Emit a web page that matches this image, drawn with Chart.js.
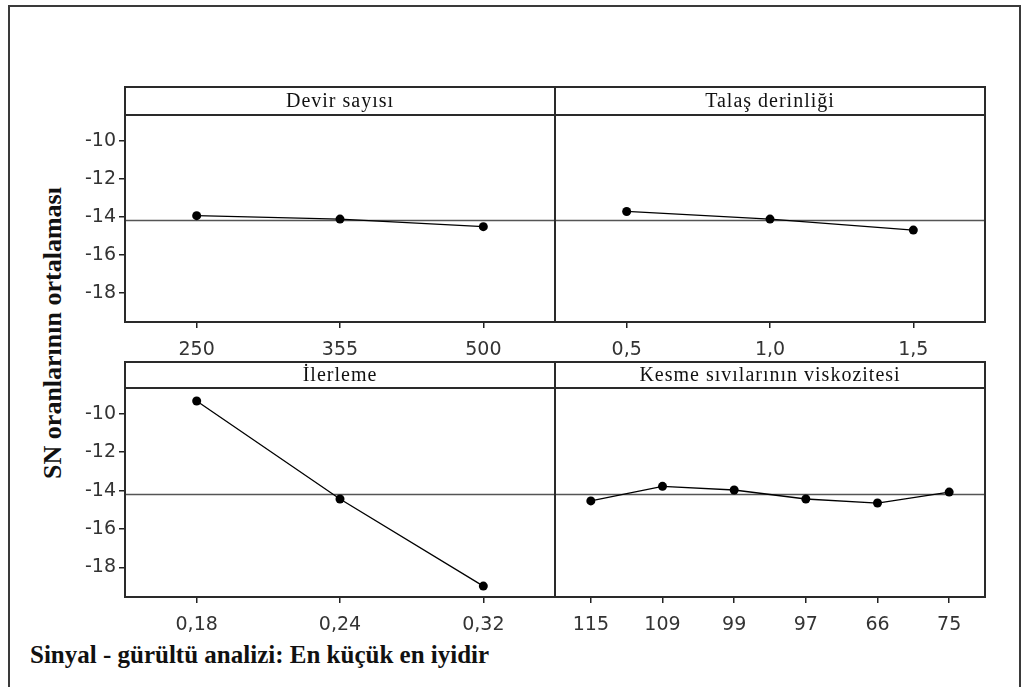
<!DOCTYPE html>
<html>
<head>
<meta charset="utf-8">
<script src="https://cdn.jsdelivr.net/npm/chart.js@4/dist/chart.umd.min.js"></script>
<style>
  html, body { margin: 0; padding: 0; background: #fff; }
  #page { position: relative; width: 1024px; height: 687px; overflow: hidden; background: #fff; }
  #frame { position: absolute; left: 8px; top: 5px; width: 1013px; height: 700px;
           border: 2px solid #3a3a3a; box-sizing: border-box; }
  canvas { position: absolute; }
  #ytitle { position: absolute; left: 53px; top: 333px; white-space: nowrap;
            transform: translate(-50%, -50%) rotate(-90deg);
            font: bold 26px "Liberation Serif", serif; color: #111; }
  #footer { position: absolute; left: 30px; top: 641px; white-space: nowrap;
            font: bold 25px "Liberation Serif", serif; color: #111; }
</style>
</head>
<body>
<div id="page">
  <div id="frame"></div>
  <div id="ytitle">SN oranlarının ortalaması</div>
  <div id="footer">Sinyal - gürültü analizi: En küçük en iyidir</div>
</div>
<script>
// Main effects of the S/N ratio (smaller is better) for each factor level
const devirLabels = ['250', '355', '500'];
const devirSN = [-13.95, -14.13, -14.53];

const talasLabels = ['0,5', '1,0', '1,5'];
const talasSN = [-13.73, -14.13, -14.71];

const ilerlemeLabels = ['0,18', '0,24', '0,32'];
const ilerlemeSN = [-9.33, -14.44, -18.98];

const kesmeLabels = ['115', '109', '99', '97', '66', '75'];
const kesmeSN = [-14.54, -13.78, -13.97, -14.44, -14.65, -14.08];

const yTickValues = [-10, -12, -14, -16, -18];
const yMin = -19.55;
const yMax = -8.65;
const grandMean = -14.2;

const panelTitles = ['Devir sayısı', 'Talaş derinliği', 'İlerleme', 'Kesme sıvılarının viskozitesi'];

// Draws the title strip, the grand-mean reference line and the panel box
const panelDecor = {
  id: 'panelDecor',
  beforeDatasetsDraw(chart, args, opts) {
    const { ctx, chartArea: a } = chart;
    const y = chart.scales.y.getPixelForValue(opts.mean);
    ctx.save();
    ctx.strokeStyle = '#555';
    ctx.lineWidth = 1.5;
    ctx.beginPath();
    ctx.moveTo(a.left, y);
    ctx.lineTo(a.right, y);
    ctx.stroke();
    ctx.restore();
  },
  afterDraw(chart, args, opts) {
    const { ctx, chartArea: a } = chart;
    ctx.save();
    ctx.strokeStyle = '#2a2a2a';
    ctx.lineWidth = 2;
    ctx.strokeRect(a.left, a.top - opts.strip, a.right - a.left, opts.strip);
    ctx.strokeRect(a.left, a.top, a.right - a.left, a.bottom - a.top);
    ctx.fillStyle = '#111';
    ctx.font = '20px "Liberation Serif", serif';
    ctx.letterSpacing = '1px';
    ctx.textAlign = 'center';
    ctx.textBaseline = 'middle';
    ctx.fillText(opts.title, (a.left + a.right) / 2, a.top - opts.strip / 2 + 1);
    ctx.restore();
  }
};

function makePanel(rect, title, labels, values, showY) {
  const yW = showY ? 60 : 0;
  const pad = 3;
  const xH = 48;
  const canvas = document.createElement('canvas');
  const w = yW + (rect.right - rect.left) + 2 * pad;
  const h = rect.strip + pad + (rect.bottom - rect.top) + xH;
  canvas.width = w;
  canvas.height = h;
  canvas.style.left = (rect.left - yW - pad) + 'px';
  canvas.style.top = (rect.top - rect.strip - pad) + 'px';
  canvas.style.width = w + 'px';
  canvas.style.height = h + 'px';
  document.getElementById('page').appendChild(canvas);

  const tickFont = { family: '"DejaVu Sans", sans-serif', size: 19 };

  new Chart(canvas, {
    type: 'line',
    data: {
      labels: labels,
      datasets: [{
        data: values,
        borderColor: '#000',
        borderWidth: 1.3,
        backgroundColor: '#000',
        pointRadius: 4.5,
        pointBackgroundColor: '#000',
        pointBorderWidth: 0,
        tension: 0,
        clip: false
      }]
    },
    options: {
      responsive: false,
      devicePixelRatio: 1,
      animation: false,
      events: [],
      layout: { autoPadding: false, padding: { top: rect.strip + pad, left: pad, right: pad, bottom: 0 } },
      plugins: {
        legend: { display: false },
        tooltip: { enabled: false },
        panelDecor: { title: title, strip: rect.strip, mean: grandMean }
      },
      scales: {
        x: {
          type: 'category',
          offset: true,
          afterFit(s) { s.height = xH; },
          grid: { drawOnChartArea: false, drawTicks: true, tickLength: 6, color: '#222', lineWidth: 1.5 },
          border: { display: false },
          ticks: { color: '#333', font: tickFont, padding: 11, maxRotation: 0, autoSkip: false }
        },
        y: {
          display: showY,
          min: yMin,
          max: yMax,
          afterFit(s) { s.width = yW; },
          afterBuildTicks(s) { s.ticks = yTickValues.map(v => ({ value: v })); },
          grid: { drawOnChartArea: false, drawTicks: true, tickLength: 6, color: '#222', lineWidth: 1.5 },
          border: { display: false },
          ticks: { color: '#333', font: tickFont, padding: 3 }
        }
      }
    },
    plugins: [panelDecor]
  });
}

makePanel({ left: 125, right: 555, top: 115, bottom: 322, strip: 28 }, panelTitles[0], devirLabels, devirSN, true);
makePanel({ left: 555, right: 985, top: 115, bottom: 322, strip: 28 }, panelTitles[1], talasLabels, talasSN, false);
makePanel({ left: 125, right: 555, top: 388, bottom: 597, strip: 26 }, panelTitles[2], ilerlemeLabels, ilerlemeSN, true);
makePanel({ left: 555, right: 985, top: 388, bottom: 597, strip: 26 }, panelTitles[3], kesmeLabels, kesmeSN, false);
</script>
</body>
</html>
